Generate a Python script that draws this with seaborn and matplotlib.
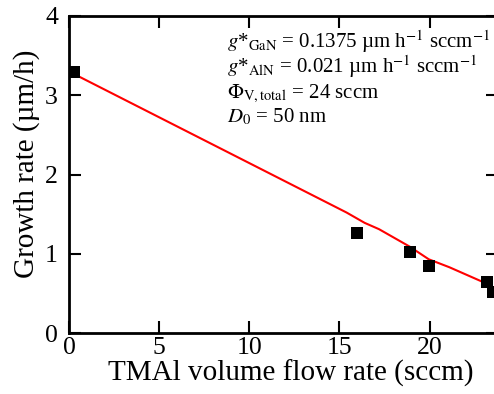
import matplotlib
matplotlib.use("Agg")
import matplotlib.pyplot as plt
import seaborn as sns
import pandas as pd

# Measured growth rates
flow_meas = [0.28, 15.96, 18.9, 19.96, 23.2, 23.5]
rate_meas = [3.29, 1.26, 1.02, 0.85, 0.64, 0.52]

# Model curve
flow_model = [0.0, 15.4, 16.4, 17.2, 18.9, 19.96, 21.1, 23.2]
rate_model = [3.30, 1.52, 1.39, 1.31, 1.09, 0.93, 0.83, 0.62]

x_ticks = [0, 5, 10, 15, 20]
y_ticks = [0, 1, 2, 3, 4]

annotations = [
    r"$g$*$_{\mathrm{GaN}}$ = 0.1375 µm h$^{-1}$ sccm$^{-1}$",
    r"$g$*$_{\mathrm{AlN}}$ = 0.021 µm h$^{-1}$ sccm$^{-1}$",
    r"$\Phi_{\mathrm{V,total}}$ = 24 sccm",
    r"$D_0$ = 50 nm",
]

sns.set_theme(style="ticks")
plt.rcParams["font.family"] = ["Liberation Serif", "DejaVu Serif"]
plt.rcParams["mathtext.fontset"] = "stix"

fig = plt.figure(figsize=(4.94, 3.94), dpi=100)
ax = fig.add_axes([69 / 494, 1 - 333 / 394, 429 / 494, 317 / 394])

df_model = pd.DataFrame({"flow": flow_model, "rate": rate_model})
df_meas = pd.DataFrame({"flow": flow_meas, "rate": rate_meas})

sns.lineplot(data=df_model, x="flow", y="rate", color="#ff0000", linewidth=1.5, ax=ax)
sns.scatterplot(data=df_meas, x="flow", y="rate", marker="s", s=75, color="black",
                edgecolor="black", linewidth=0, ax=ax, zorder=3, clip_on=True)

ax.set_xlim(0, 23.8)
ax.set_ylim(0, 4)
ax.set_xticks(x_ticks)
ax.set_yticks(y_ticks)
ax.tick_params(direction="in", length=8.5, width=1.5, labelsize=18.5, colors="black",
               top=True, right=True)
ax.tick_params(axis="x", pad=3)
ax.tick_params(axis="y", pad=8)
for sp in ax.spines.values():
    sp.set_linewidth(2)
    sp.set_color("black")

ax.set_xlabel("TMAl volume flow rate (sccm)", fontsize=21, color="black")
ax.set_ylabel("Growth rate (µm/h)", fontsize=21, color="black")
ax.xaxis.set_label_coords(0.517, -0.085)
ax.yaxis.set_label_coords(-0.068, 0.533)

baselines = [48, 73, 98, 122]
for t, yb in zip(annotations, baselines):
    fig.text(227 / 494, 1 - yb / 394, t, fontsize=15, color="black",
             ha="left", va="baseline")

fig.savefig("out.png", dpi=100)
